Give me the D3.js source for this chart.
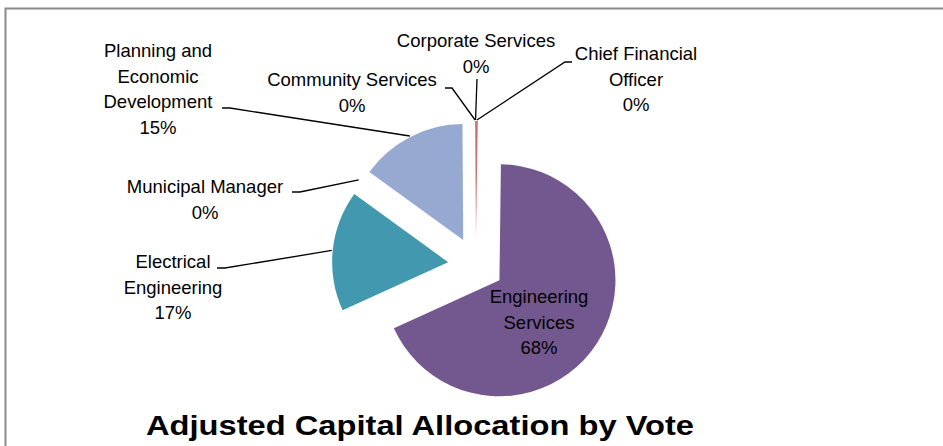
<!DOCTYPE html>
<html>
<head>
<meta charset="utf-8">
<script src="https://cdn.jsdelivr.net/npm/d3@7"></script>
<style>
  body { margin: 0; background: #fff; }
  svg text { font-family: "Liberation Sans", Arial, sans-serif; fill: #000; }
</style>
</head>
<body>
<div id="chart"></div>
<script>
// Data, in slice order clockwise from 12 o'clock
var categories = ["Chief Financial Officer", "Engineering Services", "Electrical Engineering",
  "Municipal Manager", "Planning and Economic Development", "Community Services", "Corporate Services"];
var shares = [0.2, 68.0, 16.8, 0.0, 14.9, 0.0, 0.1];
var sliceColors = ["#C0504D", "#73588F", "#4198AF", "#F79646", "#95A9D1", "#9BBB59", "#4F81BD"];
var chartTitle = "Adjusted Capital Allocation by Vote";

// Label placement (text lines, centre x, first line y, leader elbow)
var labelLayout = {
  "Chief Financial Officer": { lines: ["Chief Financial", "Officer"], x: 636, y: 54, elbow: [[572, 62], [565, 62]] },
  "Engineering Services": { lines: ["Engineering", "Services"], x: 539, y: 297, elbow: null },
  "Electrical Engineering": { lines: ["Electrical", "Engineering"], x: 173, y: 262, elbow: [[217, 268], [225, 268]] },
  "Municipal Manager": { lines: ["Municipal Manager"], x: 205, y: 187, elbow: [[292, 192], [300, 192]] },
  "Planning and Economic Development": { lines: ["Planning and", "Economic", "Development"], x: 158, y: 51, elbow: [[222, 108], [230, 108]] },
  "Community Services": { lines: ["Community Services"], x: 352, y: 80, elbow: [[445, 88], [452, 88]] },
  "Corporate Services": { lines: ["Corporate Services"], x: 476, y: 41, elbow: [[477, 79]] }
};

var svgWidth = 943;
var svgHeight = 446;
var cx = 476, cy = 265;
var radius = 116;
var explode = 28;
var lineStep = 25.5;

var svg = d3.select("#chart")
  .append("svg")
  .attr("width", svgWidth)
  .attr("height", svgHeight);

// chart area border
svg.append("rect")
  .attr("x", 5.5).attr("y", 8.5)
  .attr("width", 1000).attr("height", 600)
  .attr("fill", "none")
  .attr("stroke", "#8a8a8a")
  .attr("stroke-width", 2);

var rows = categories.map(function(c, i) {
  return { name: c, value: shares[i], color: sliceColors[i] };
});

var pie = d3.pie()
  .sort(null)
  .value(d => d.value);

var arc = d3.arc().innerRadius(0).outerRadius(radius);

var arcs = pie(rows);

function offsetOf(d, dist) {
  var mid = (d.startAngle + d.endAngle) / 2;
  return [Math.sin(mid) * dist, -Math.cos(mid) * dist];
}

var pieGroup = svg.append("g")
  .attr("transform", `translate(${cx}, ${cy})`);

pieGroup.selectAll("path")
  .data(arcs)
  .enter()
  .append("path")
  .attr("transform", d => {
    var o = offsetOf(d, explode);
    return `translate(${o[0]}, ${o[1]})`;
  })
  .attr("d", arc)
  .attr("fill", d => d.data.color);

// leader lines
var line = d3.line();
arcs.forEach(function(d) {
  var lay = labelLayout[d.data.name];
  if (!lay.elbow) return;
  var o = offsetOf(d, explode);
  var p = offsetOf(d, radius + 1);
  var end = [cx + o[0] + p[0], cy + o[1] + p[1]];
  svg.append("path")
    .attr("d", line(lay.elbow.concat([end])))
    .attr("fill", "none")
    .attr("stroke", "#000")
    .attr("stroke-width", 1.3);
});

// data labels
arcs.forEach(function(d) {
  var lay = labelLayout[d.data.name];
  var lines = lay.lines.concat([Math.round(d.data.value) + "%"]);
  var t = svg.append("text")
    .attr("text-anchor", "middle")
    .attr("font-size", "18.5px");
  lines.forEach(function(s, k) {
    t.append("tspan")
      .attr("x", lay.x)
      .attr("y", lay.y + k * lineStep)
      .attr("dy", "0.35em")
      .text(s);
  });
});

// title
svg.append("text")
  .attr("x", 420)
  .attr("y", 435)
  .attr("text-anchor", "middle")
  .attr("font-size", "28.5px")
  .attr("font-weight", "bold")
  .attr("textLength", 548)
  .attr("lengthAdjust", "spacingAndGlyphs")
  .text(chartTitle);
</script>
</body>
</html>
